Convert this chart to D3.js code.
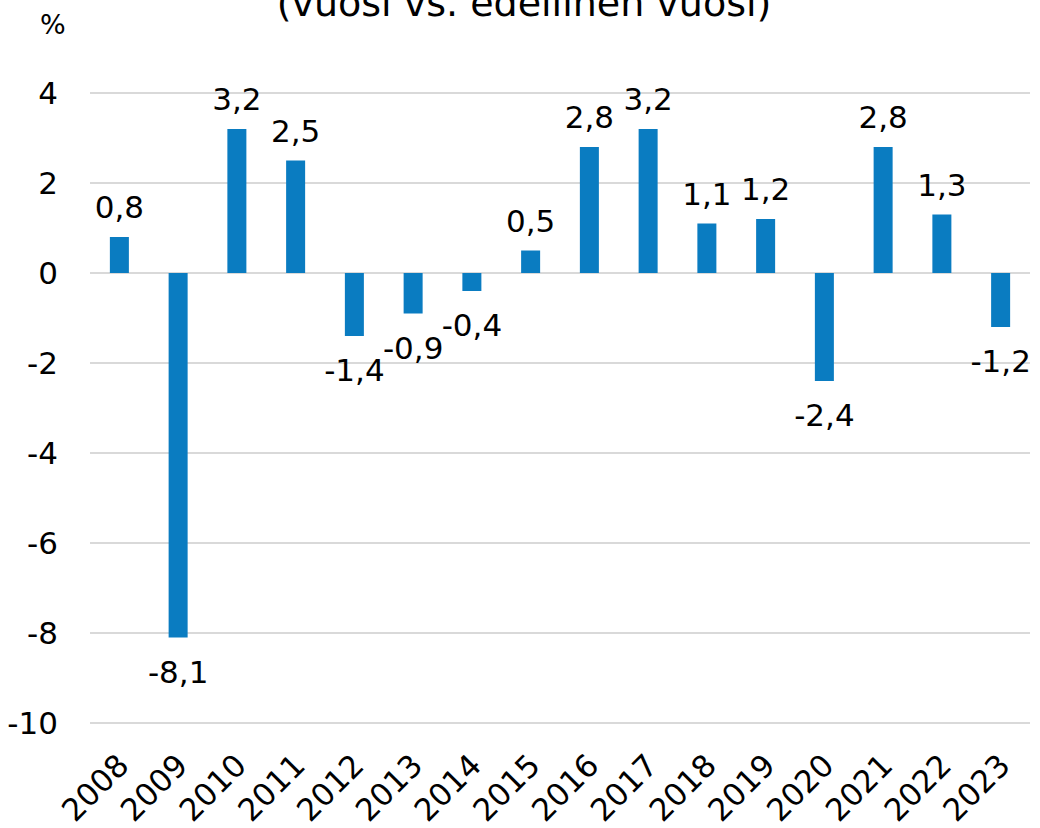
<!DOCTYPE html>
<html>
<head>
<meta charset="utf-8">
<script src="https://cdn.jsdelivr.net/npm/d3@7"></script>
<style>
  body { margin: 0; background: #fff; }
  text { font-family: "DejaVu Sans", Verdana, sans-serif; fill: #000; }
</style>
</head>
<body>
<script>
//data
var years = ["2008","2009","2010","2011","2012","2013","2014","2015","2016","2017","2018","2019","2020","2021","2022","2023"];
var values = [0.8, -8.1, 3.2, 2.5, -1.4, -0.9, -0.4, 0.5, 2.8, 3.2, 1.1, 1.2, -2.4, 2.8, 1.3, -1.2];
var yTicks = [-10, -8, -6, -4, -2, 0, 2, 4];

var width = 1040, height = 828;
var margin = {left: 90, right: 10, top: 93, bottom: 105};

var svg = d3.select("body").append("svg")
  .attr("width", width)
  .attr("height", height);

var x = d3.scaleBand()
  .domain(years)
  .range([margin.left, width - margin.right]);

var y = d3.scaleLinear()
  .domain([-10, 4])
  .range([height - margin.bottom, margin.top]);

//comma decimals, plain hyphen for minus
var fmt = function(v) { return v.toFixed(1).replace(".", ","); };

//gridlines
svg.append("g")
  .selectAll("line")
  .data(yTicks)
  .enter().append("line")
    .attr("x1", margin.left)
    .attr("x2", width - margin.right)
    .attr("y1", function(d) { return y(d); })
    .attr("y2", function(d) { return y(d); })
    .attr("stroke", "#d9d9d9")
    .attr("stroke-width", 2);

//y tick labels
svg.append("g")
  .selectAll("text")
  .data(yTicks)
  .enter().append("text")
    .attr("x", 58)
    .attr("y", function(d) { return y(d); })
    .attr("dy", "0.36em")
    .attr("text-anchor", "end")
    .style("font-size", "31px")
    .text(function(d) { return d; });

//bars
var bw = 19;
svg.append("g")
  .selectAll("rect")
  .data(values)
  .enter().append("rect")
    .attr("x", function(d, i) { return x(years[i]) + x.bandwidth() / 2 - bw / 2; })
    .attr("y", function(d) { return y(Math.max(0, d)); })
    .attr("width", bw)
    .attr("height", function(d) { return Math.abs(y(d) - y(0)); })
    .attr("fill", "#0a7cc1");

//value labels
svg.append("g")
  .selectAll("text")
  .data(values)
  .enter().append("text")
    .attr("x", function(d, i) { return x(years[i]) + x.bandwidth() / 2; })
    .attr("y", function(d) { return d >= 0 ? y(d) - 19 : y(d) + 45; })
    .attr("text-anchor", "middle")
    .style("font-size", "31px")
    .text(function(d) { return fmt(d); });

//x labels
svg.append("g")
  .selectAll("text")
  .data(years)
  .enter().append("text")
    .attr("transform", function(d) {
      return "translate(" + (x(d) + x.bandwidth() / 2 - 4) + "," + 752 + ") rotate(-45)";
    })
    .attr("text-anchor", "end")
    .attr("dy", "0.7em")
    .style("font-size", "31px")
    .text(function(d) { return d; });

//unit and title
svg.append("text")
  .attr("x", 40)
  .attr("y", 34)
  .style("font-size", "27px")
  .text("%");

svg.append("text")
  .attr("x", 524)
  .attr("y", 16)
  .attr("text-anchor", "middle")
  .style("font-size", "38px")
  .text("(vuosi vs. edellinen vuosi)");
</script>
</body>
</html>
